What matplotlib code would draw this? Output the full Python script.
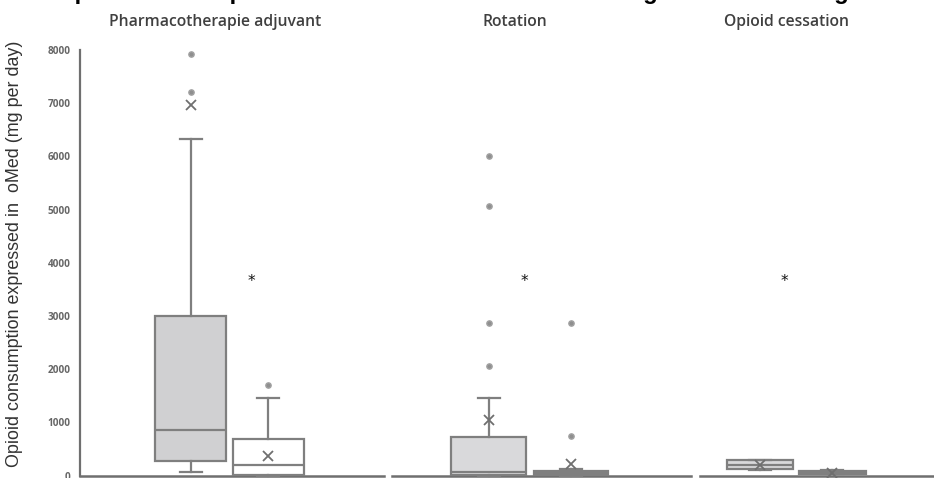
import matplotlib
matplotlib.use("Agg")
import matplotlib.pyplot as plt
from matplotlib.lines import Line2D

# ---------------- data ----------------
panel_titles = ["Pharmacotherapie adjuvant", "Rotation", "Opioid cessation"]
title_text = "Opioid consumption before and after the total management according to the strategy"
y_label = "Opioid consumption expressed in  oMed (mg per day)"
y_ticks = [0, 1000, 2000, 3000, 4000, 5000, 6000, 7000, 8000]

q1 = [278, 5, 5, 10, 122, 28]
med = [850, 203, 70, 40, 203, 55]
q3 = [3000, 680, 720, 90, 285, 90]
whislo = [66, 0, 0, 0, 100, 25]
whishi = [6320, 1457, 1451, 122, 300, 100]
means = [6964, 366, 1043, 216, 205, 53]
fliers = [[7214, 7923], [1701], [2058, 2872, 5066, 6006], [742, 2872], [], []]
star_value = 3643

# ---------------- layout ----------------
W, H = 934, 478
fig = plt.figure(figsize=(W / 100, H / 100), dpi=100)

y0_px, y8000_px = 475.5, 50.0
ppv = (y0_px - y8000_px) / 8000.0
ylo, yhi = -40, 8100
ax_bottom_px = y0_px - ylo * ppv
ax_top_px = y0_px - yhi * ppv
ax_left_px, ax_right_px = 80, 934
ax = fig.add_axes([ax_left_px / W, (H - ax_bottom_px) / H,
                   (ax_right_px - ax_left_px) / W, (ax_bottom_px - ax_top_px) / H])
ax.set_xlim(ax_left_px, ax_right_px)
ax.set_ylim(ylo, yhi)

positions = [190.5, 268, 488.5, 570.5, 760, 832]
widths = [71, 71, 75, 74, 66, 67]
fills = ["#d0d0d2", "#ffffff", "#d9d9db", "#ffffff", "#d9d9db", "#ffffff"]
segments = [(80, 384), (392, 691), (700, 934)]
title_x = [215, 515, 786]
star_x = [251, 524, 784]

edge = "#7f7f7f"
stats = []
for i in range(6):
    stats.append(dict(q1=q1[i], med=med[i], q3=q3[i], whislo=whislo[i],
                      whishi=whishi[i], mean=means[i], fliers=fliers[i]))

bp = ax.bxp(stats, positions=positions, widths=widths, patch_artist=True,
            showmeans=True, showcaps=True, capwidths=22,
            boxprops=dict(edgecolor=edge, linewidth=1.6),
            whiskerprops=dict(color=edge, linewidth=1.6),
            capprops=dict(color=edge, linewidth=1.6),
            medianprops=dict(color=edge, linewidth=1.6),
            meanprops=dict(marker="x", markeredgecolor="#6f6f6f", markersize=7,
                           markeredgewidth=1.3, linestyle="none"),
            flierprops=dict(marker="o", markerfacecolor="#8f8f8f",
                            markeredgecolor="#a0a0a0", markersize=3.8,
                            linestyle="none"),
            zorder=3)
for patch, fc in zip(bp["boxes"], fills):
    patch.set_facecolor(fc)
for art_list in bp.values():
    for a in art_list:
        a.set_clip_on(False)

# baseline segments
for (a, b) in segments:
    ax.add_line(Line2D([a, b], [-8, -8], color="#6f6f6f", linewidth=1.8,
                       clip_on=False, zorder=2))

# stars
for sx in star_x:
    ax.text(sx, star_value, "*", ha="center", va="center", fontsize=11,
            color="#111111")

# spines / ticks
for s in ["top", "right", "bottom"]:
    ax.spines[s].set_visible(False)
ax.spines["left"].set_color("#6f6f6f")
ax.spines["left"].set_linewidth(1.6)
ax.spines["left"].set_bounds(-8, 8000)
ax.set_xticks([])
ax.set_yticks(y_ticks)
ax.set_yticklabels([str(t) for t in y_ticks])
ax.tick_params(axis="y", length=0, pad=7, labelsize=7.2, labelcolor="#666666")
for lab in ax.get_yticklabels():
    lab.set_fontfamily("Open Sans")
    lab.set_fontweight("bold")

# panel titles
for tx, t in zip(title_x, panel_titles):
    fig.text(tx / W, 1 - 22 / H, t, ha="center", va="center", fontsize=11.3,
             color="#404040", family="Open Sans", fontweight="semibold")

# y label
fig.text(15 / W, 1 - 254 / H, y_label, rotation=90, ha="center", va="center",
         fontsize=12.9, color="#333333", family="Liberation Sans")

# cropped main title (only descenders visible)
fig.text(56 / W, 1 + 1.2 / H, title_text, ha="left", va="baseline",
         fontsize=17.2, fontweight="bold", color="black", family="Liberation Sans")

fig.savefig("out.png", dpi=100)
